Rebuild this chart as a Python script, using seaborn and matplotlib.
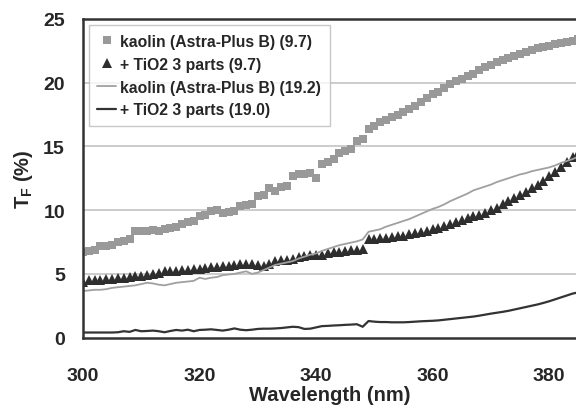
import numpy as np
import pandas as pd
import matplotlib
matplotlib.use("Agg")
import matplotlib.pyplot as plt
import seaborn as sns

# Wavelength grid (nm) and the four curves
wavelength = list(range(300, 386))

kaolin_97 = [6.7, 6.8, 6.9, 7.15, 7.2, 7.3, 7.5, 7.6, 7.7, 8.35,
             8.4, 8.4, 8.45, 8.35, 8.5, 8.6, 8.65, 8.95, 9.05, 9.15,
             9.5, 9.6, 9.95, 10.0, 9.8, 9.85, 9.9, 10.35, 10.4, 10.45,
             11.1, 11.2, 11.7, 11.5, 11.8, 11.9, 12.7, 12.8, 12.8, 12.9,
             12.5, 13.6, 13.8, 14.0, 14.5, 14.6, 14.8, 15.4, 15.6, 16.4,
             16.6, 16.9, 17.1, 17.3, 17.5, 17.7, 17.9, 18.2, 18.5, 18.8,
             19.1, 19.3, 19.6, 19.9, 20.1, 20.3, 20.5, 20.7, 21.0, 21.2,
             21.4, 21.6, 21.8, 21.95, 22.1, 22.25, 22.4, 22.55, 22.7, 22.8,
             22.9, 23.0, 23.1, 23.2, 23.3, 23.4]

tio2_97 = [4.4, 4.5, 4.5, 4.55, 4.6, 4.6, 4.65, 4.7, 4.75, 4.8,
           4.85, 4.9, 5.0, 5.1, 5.2, 5.2, 5.25, 5.3, 5.3, 5.35,
           5.4, 5.45, 5.5, 5.55, 5.6, 5.65, 5.7, 5.75, 5.8, 5.8,
           5.7, 5.65, 5.8, 6.0, 6.05, 6.1, 6.2, 6.3, 6.4, 6.45,
           6.5, 6.5, 6.6, 6.7, 6.75, 6.8, 6.85, 6.9, 6.95, 7.7,
           7.75, 7.8, 7.85, 7.9, 7.95, 8.0, 8.1, 8.2, 8.3, 8.4,
           8.5, 8.6, 8.75, 8.9, 9.05, 9.2, 9.35, 9.5, 9.65, 9.8,
           10.0, 10.2, 10.5, 10.7, 10.95, 11.2, 11.45, 11.7, 12.0, 12.3,
           12.65, 13.0, 13.4, 13.8, 14.2, 14.5]

kaolin_192 = [3.65, 3.7, 3.75, 3.75, 3.8, 3.9, 3.95, 4.0, 4.05, 4.1,
              4.2, 4.3, 4.25, 4.15, 4.1, 4.2, 4.3, 4.35, 4.4, 4.45,
              4.7, 4.6, 4.7, 4.75, 4.9, 4.95, 5.0, 5.1, 5.2, 5.0,
              5.1, 5.3, 5.5, 5.7, 5.8, 5.9, 6.0, 6.2, 6.35, 6.5,
              6.6, 6.8, 6.95, 7.1, 7.25, 7.35, 7.45, 7.55, 7.7, 8.3,
              8.4, 8.5, 8.7, 8.85, 9.0, 9.15, 9.3, 9.5, 9.7, 9.9,
              10.1, 10.25, 10.45, 10.7, 10.9, 11.1, 11.3, 11.55, 11.7, 11.85,
              12.0, 12.2, 12.35, 12.5, 12.65, 12.8, 12.9, 13.05, 13.15, 13.25,
              13.35, 13.5, 13.7, 13.85, 14.0, 14.2]

tio2_190 = [0.4, 0.4, 0.4, 0.4, 0.4, 0.4, 0.42, 0.5, 0.45, 0.6,
            0.5, 0.52, 0.55, 0.5, 0.42, 0.52, 0.6, 0.55, 0.62, 0.5,
            0.6, 0.62, 0.65, 0.6, 0.55, 0.62, 0.72, 0.62, 0.58, 0.62,
            0.68, 0.7, 0.7, 0.72, 0.75, 0.8, 0.85, 0.82, 0.68, 0.7,
            0.8, 0.9, 0.92, 0.95, 0.97, 1.0, 1.02, 1.05, 0.85, 1.3,
            1.25, 1.22, 1.22, 1.2, 1.2, 1.2, 1.22, 1.25, 1.28, 1.3,
            1.32, 1.35, 1.4, 1.45, 1.5, 1.55, 1.6, 1.65, 1.72, 1.8,
            1.88, 1.95, 2.02, 2.1, 2.2, 2.3, 2.4, 2.5, 2.6, 2.72,
            2.85, 3.0, 3.15, 3.3, 3.45, 3.55]

labels = ["kaolin (Astra-Plus B) (9.7)", "+ TiO2 3 parts (9.7)",
          "kaolin (Astra-Plus B) (19.2)", "+ TiO2 3 parts (19.0)"]

df = pd.DataFrame({"wl": wavelength, "k97": kaolin_97, "t97": tio2_97,
                   "k192": kaolin_192, "t190": tio2_190})

sns.set_theme(style="white")
plt.rcParams["font.family"] = ["Liberation Sans", "DejaVu Sans"]
plt.rcParams["font.weight"] = "bold"
plt.rcParams["mathtext.fontset"] = "custom"
plt.rcParams["mathtext.rm"] = "Liberation Sans:bold"
plt.rcParams["mathtext.bf"] = "Liberation Sans:bold"

fig = plt.figure(figsize=(5.76, 4.06), dpi=100)
ax = fig.add_axes([0.144, 0.166, 0.856, 0.785])

# horizontal gridlines only
for yv in [5, 10, 15, 20]:
    ax.axhline(yv, color="#c4c4c4", lw=1.2, zorder=0)

sns.lineplot(data=df, x="wl", y="k97", ax=ax, color="#999999", lw=0,
             marker="s", markersize=5.4, markeredgewidth=0, label=labels[0])
sns.lineplot(data=df, x="wl", y="t97", ax=ax, color="#2e2e2e", lw=0,
             marker="^", markersize=7.2, markeredgewidth=0, label=labels[1])
sns.lineplot(data=df, x="wl", y="k192", ax=ax, color="#a0a0a0", lw=1.3,
             label=labels[2])
sns.lineplot(data=df, x="wl", y="t190", ax=ax, color="#333333", lw=1.6,
             label=labels[3])

ax.set_xlim(300, 384.6)
ax.set_ylim(0, 25)
ax.set_xticks([300, 320, 340, 360, 380])
ax.set_yticks([0, 5, 10, 15, 20, 25])
ax.tick_params(axis="x", direction="out", length=4, color="#bbbbbb",
               labelsize=14, pad=17)
ax.tick_params(axis="y", direction="out", length=5, color="#bbbbbb",
               labelsize=14, pad=8)
for lbl in ax.get_xticklabels() + ax.get_yticklabels():
    lbl.set_fontweight("bold")

ax.set_xlabel("Wavelength (nm)", fontsize=14.5, fontweight="bold", labelpad=1)
ax.set_ylabel(r"T$_{\mathrm{F}}$ (%)", fontsize=14.5, fontweight="bold", labelpad=6)

for side in ["left", "top", "bottom"]:
    ax.spines[side].set_color("#333333")
    ax.spines[side].set_linewidth(1.8)
ax.spines["right"].set_visible(False)

leg = ax.legend(loc="upper left", bbox_to_anchor=(0.012, 0.98), fontsize=11.3,
                frameon=True, fancybox=False, edgecolor="#bbbbbb",
                handlelength=1.2, handletextpad=0.25, borderpad=0.55,
                labelspacing=0.5, borderaxespad=0)
leg.get_frame().set_linewidth(1.0)
for txt in leg.get_texts():
    txt.set_fontweight("bold")

plt.savefig("out.png", dpi=100)
plt.close()
